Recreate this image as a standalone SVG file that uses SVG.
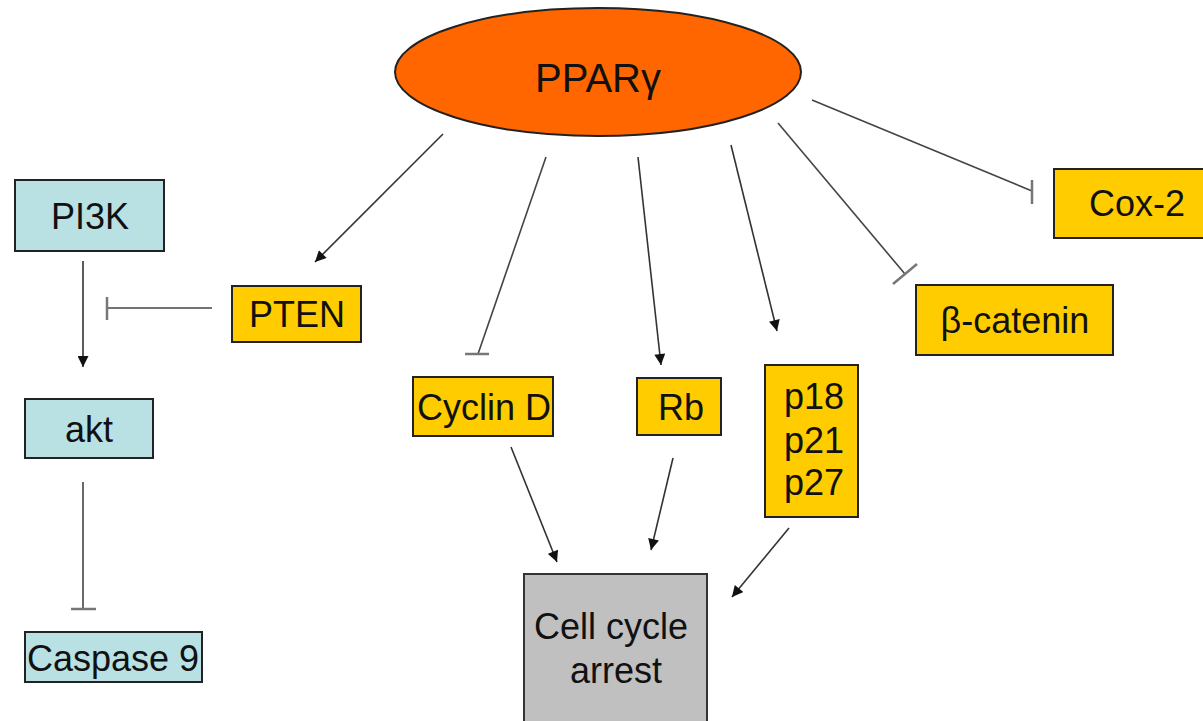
<svg xmlns="http://www.w3.org/2000/svg" width="1203" height="721" viewBox="0 0 1203 721">
<defs>
<style>
.t{font-family:"Liberation Sans",Arial,sans-serif;font-size:36px;fill:#111;}
.blue{fill:#B9E0E3;stroke:#222;stroke-width:2;}
.yel{fill:#FFCC00;stroke:#222;stroke-width:2;}
.gray{fill:#C0C0C0;stroke:#333;stroke-width:2;}
.act{stroke:#333;stroke-width:1.6;fill:none;marker-end:url(#arr);}
.inh{stroke:#444;stroke-width:1.6;fill:none;}
.bar{stroke:#777;stroke-width:2.5;fill:none;}
</style>
<marker id="arr" viewBox="0 0 10 10" refX="10" refY="5" markerWidth="12" markerHeight="11" markerUnits="userSpaceOnUse" orient="auto">
<path d="M0,0 L10,5 L0,10 Z" fill="#111"/>
</marker>
</defs>
<rect width="1203" height="721" fill="#fff"/>
<g id="connectors">
<line class="act" x1="83" y1="261" x2="83" y2="367"/>
<line class="inh" x1="212" y1="308" x2="107" y2="308" stroke="#999" stroke-width="2.5"/>
<line class="bar" x1="107" y1="297" x2="107" y2="320"/>
<line class="inh" x1="83" y1="482" x2="83" y2="609"/>
<line class="bar" x1="71" y1="609" x2="96" y2="609" stroke="#333"/>
<line class="act" x1="443" y1="134" x2="315" y2="262"/>
<line class="inh" x1="546" y1="157" x2="478" y2="354"/>
<line class="bar" x1="465" y1="354" x2="489" y2="354"/>
<line class="act" x1="638" y1="157" x2="661" y2="365"/>
<line class="act" x1="731" y1="145" x2="777" y2="331"/>
<line class="inh" x1="778" y1="123" x2="905" y2="274"/>
<line class="bar" x1="893" y1="284" x2="917" y2="264" stroke="#444"/>
<line class="inh" x1="812" y1="100" x2="1032" y2="191"/>
<line class="bar" x1="1032" y1="180" x2="1032" y2="204"/>
<line class="act" x1="511" y1="447" x2="557" y2="562"/>
<line class="act" x1="673" y1="458" x2="651" y2="550"/>
<line class="act" x1="789" y1="528" x2="732" y2="597"/>
</g>
<g id="ppar">
<ellipse cx="598" cy="72" rx="203" ry="64" fill="#FF6600" stroke="#222" stroke-width="2"/>
<text class="t" x="598" y="92" text-anchor="middle" style="font-size:40px">PPARγ</text>
</g>
<g id="pi3k"><rect class="blue" x="15" y="180" width="149" height="71"/><text class="t" x="90" y="229" text-anchor="middle">PI3K</text></g>
<g id="pten"><rect class="yel" x="232" y="286" width="129" height="56"/><text class="t" x="297" y="327" text-anchor="middle">PTEN</text></g>
<g id="akt"><rect class="blue" x="25" y="399" width="128" height="59"/><text class="t" x="89" y="442" text-anchor="middle">akt</text></g>
<g id="caspase9"><rect class="blue" x="25" y="632" width="177" height="50" stroke="#666"/><text class="t" x="113" y="671" text-anchor="middle">Caspase 9</text></g>
<g id="cyclind"><rect class="yel" x="413" y="377" width="140" height="59" stroke="#888"/><text class="t" x="484" y="420" text-anchor="middle">Cyclin D</text></g>
<g id="rb"><rect class="yel" x="637" y="378" width="84" height="57"/><text class="t" x="681" y="420" text-anchor="middle">Rb</text></g>
<g id="p18"><rect class="yel" x="765" y="365" width="93" height="152"/>
<text class="t" x="784" y="409">p18</text><text class="t" x="784" y="453">p21</text><text class="t" x="784" y="495">p27</text></g>
<g id="betacatenin"><rect class="yel" x="916" y="285" width="197" height="70"/><text class="t" x="1015" y="333" text-anchor="middle">β-catenin</text></g>
<g id="cox2"><rect class="yel" x="1054" y="169" width="155" height="69"/><text class="t" x="1089" y="216">Cox-2</text></g>
<g id="cellcycle"><rect class="gray" x="524" y="574" width="183" height="150"/>
<text class="t" x="611" y="639" text-anchor="middle">Cell cycle</text><text class="t" x="616" y="683" text-anchor="middle">arrest</text></g>
</svg>
